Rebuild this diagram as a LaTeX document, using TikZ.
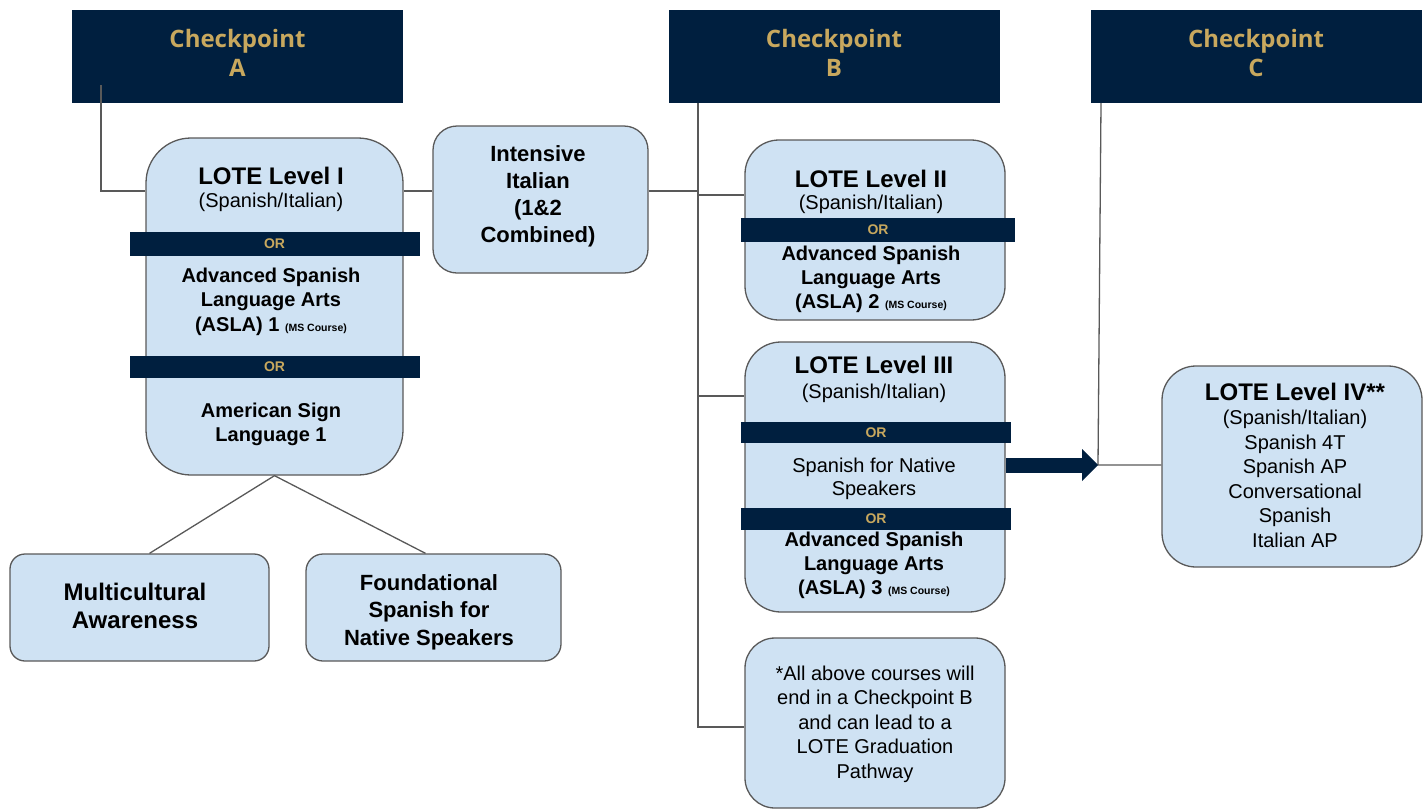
\documentclass[tikz,border=0pt]{standalone}
\usepackage{fontspec}
\setmainfont{Liberation Sans}
\newfontfamily\hdrfont{Open Sans}
\usepackage{xcolor}
\usepackage{tikz}
\usetikzlibrary{
  arrows.meta
}
\definecolor{navy}{HTML}{001F3F}
\definecolor{gold}{HTML}{C8A85E}
\definecolor{pale}{HTML}{CFE2F3}
\definecolor{rim}{HTML}{595959}
\tikzset{
  hdr/.style={
    fill=navy,
    minimum width=331,
    minimum height=93,
    inner sep=0},
  hdrtxt/.style={
    anchor=base,
    align=center,
    inner sep=0,
    text=gold,
    font=\hdrfont\bfseries\fontsize{24}{29}\selectfont},
  box/.style={
    draw=rim,
    fill=pale,
    line width=1.3,
    inner sep=0},
  orbar/.style={
    fill=navy,
    text=gold,
    inner sep=0,
    font=\bfseries\fontsize{14}{14}\selectfont},
  txt/.style={
    anchor=base,
    align=center,
    inner sep=0},
  link/.style={
    draw=rim,
    line width=1.3}
  }
\newcommand{\mscourse}{{\fontsize{10.5}{10.5}\selectfont (MS Course)}}

\begin{document}
\begin{tikzpicture}[x=1pt,y=-1pt]
		\useasboundingbox (0,0) rectangle (1426,809);
		% checkpoints
		\node [hdr] (hdrA) at (237.5,56.5) {};
		\node [hdr] (hdrB) at (834,56.5) {};
		\node [hdr] (hdrC) at (1256,56.5) {};
		\node [hdrtxt] (capA) at (237.5,76) {Checkpoint\\A};
		\node [hdrtxt] (capB) at (834,76) {Checkpoint\\B};
		\node [hdrtxt] (capC) at (1256,76) {Checkpoint\\C};
		% boxes
		\node [box, minimum width=257, minimum height=337, rounded corners=45] (lote1) at (274.5,306.5) {};
		\node [box, minimum width=215, minimum height=147, rounded corners=24] (ital) at (540.5,199.5) {};
		\node [box, minimum width=260, minimum height=180, rounded corners=34] (lote2) at (875,230) {};
		\node [box, minimum width=260, minimum height=270, rounded corners=36] (lote3) at (875,477) {};
		\node [box, minimum width=260, minimum height=170, rounded corners=30] (note) at (875,723) {};
		\node [box, minimum width=260, minimum height=201, rounded corners=34] (lote4) at (1292,466.5) {};
		\node [box, minimum width=259, minimum height=107, rounded corners=15] (multi) at (139.5,607.5) {};
		\node [box, minimum width=255, minimum height=107, rounded corners=17] (found) at (433.5,607.5) {};
		% or bars
		\node [orbar, minimum width=290, minimum height=24] (or1a) at (274.5,244) {OR};
		\node [orbar, minimum width=290, minimum height=22] (or1b) at (274.5,367) {OR};
		\node [orbar, minimum width=274, minimum height=24] (or2) at (878,230) {OR};
		\node [orbar, minimum width=270, minimum height=21] (or3a) at (876,432.5) {OR};
		\node [orbar, minimum width=270, minimum height=22] (or3b) at (876,519) {OR};
		% texts (base = last line)
		\node [txt, font=\bfseries\fontsize{24}{24}\selectfont] (t1a) at (271,184) {LOTE Level I};
		\node [txt, font=\fontsize{20}{20}\selectfont] (t1b) at (271,207) {(Spanish/Italian)};
		\node [txt, font=\bfseries\fontsize{20}{24.5}\selectfont] (t1c) at (271,331) {Advanced Spanish\\Language Arts\\(ASLA) 1 \mscourse};
		\node [txt, font=\bfseries\fontsize{20}{24}\selectfont] (t1d) at (271,441) {American Sign\\Language 1};
		\node [txt, font=\bfseries\fontsize{22}{27}\selectfont] (tital) at (538,242.5) {Intensive\\Italian\\(1\&2\\Combined)};
		\node [txt, font=\bfseries\fontsize{24}{24}\selectfont] (t2a) at (871,187) {LOTE Level II};
		\node [txt, font=\fontsize{20}{20}\selectfont] (t2b) at (871,209) {(Spanish/Italian)};
		\node [txt, font=\bfseries\fontsize{20}{24}\selectfont] (t2c) at (871,308) {Advanced Spanish\\Language Arts\\(ASLA) 2 \mscourse};
		\node [txt, font=\bfseries\fontsize{24}{24}\selectfont] (t3a) at (874,373) {LOTE Level III};
		\node [txt, font=\fontsize{20}{20}\selectfont] (t3b) at (874,398) {(Spanish/Italian)};
		\node [txt, font=\fontsize{20}{23.5}\selectfont] (t3c) at (874,495.5) {Spanish for Native\\Speakers};
		\node [txt, font=\bfseries\fontsize{20}{24}\selectfont] (t3d) at (874,594) {Advanced Spanish\\Language Arts\\(ASLA) 3 \mscourse};
		\node [txt, font=\fontsize{20}{24.5}\selectfont] (tnote) at (875,778) {*All above courses will\\end in a Checkpoint B\\and can lead to a\\LOTE Graduation\\Pathway};
		\node [txt, font=\bfseries\fontsize{24}{24}\selectfont] (t4a) at (1295,400) {LOTE Level IV**};
		\node [txt, font=\fontsize{20}{24.5}\selectfont] (t4b) at (1295,547) {(Spanish/Italian)\\Spanish 4T\\Spanish AP\\Conversational\\Spanish\\Italian AP};
		\node [txt, font=\bfseries\fontsize{24}{28.5}\selectfont] (tmulti) at (135,628.5) {Multicultural\\Awareness};
		\node [txt, font=\bfseries\fontsize{22}{27.5}\selectfont] (tfound) at (429,645) {Foundational\\Spanish for\\Native Speakers};
		% links
		\coordinate (aTop) at (101,85);
		\coordinate (aBend) at (101,191);
		\coordinate (bTop) at (698,103);
		\coordinate (bBot) at (698,727);
		\coordinate (bII) at (698,195);
		\coordinate (bIII) at (698,396);
		\coordinate (cTop) at (1101,103);
		\coordinate (cJoin) at (1098,465);
		\draw [link] (aTop) -- (aBend) -- (aBend -| lote1.west);
		\draw [link] (aBend -| lote1.east) -- (aBend -| ital.west);
		\draw [link] (aBend -| ital.east) -- (aBend -| bTop);
		\draw [link] (bTop) -- (bBot) -- (bBot -| note.west);
		\draw [link] (bII) -- (bII -| lote2.west);
		\draw [link] (bIII) -- (bIII -| lote3.west);
		\draw [link] (cTop) -- (cJoin) -- (cJoin -| lote4.west);
		\draw [link] ([xshift=10]multi.north) -- (lote1.south) -- ([xshift=-8]found.north);
		\draw [navy, line width=15, -{Triangle[length=16pt, width=32pt, line width=0pt]}] (cJoin -| lote3.east) -- (cJoin);
	\end{tikzpicture}
\end{document}
